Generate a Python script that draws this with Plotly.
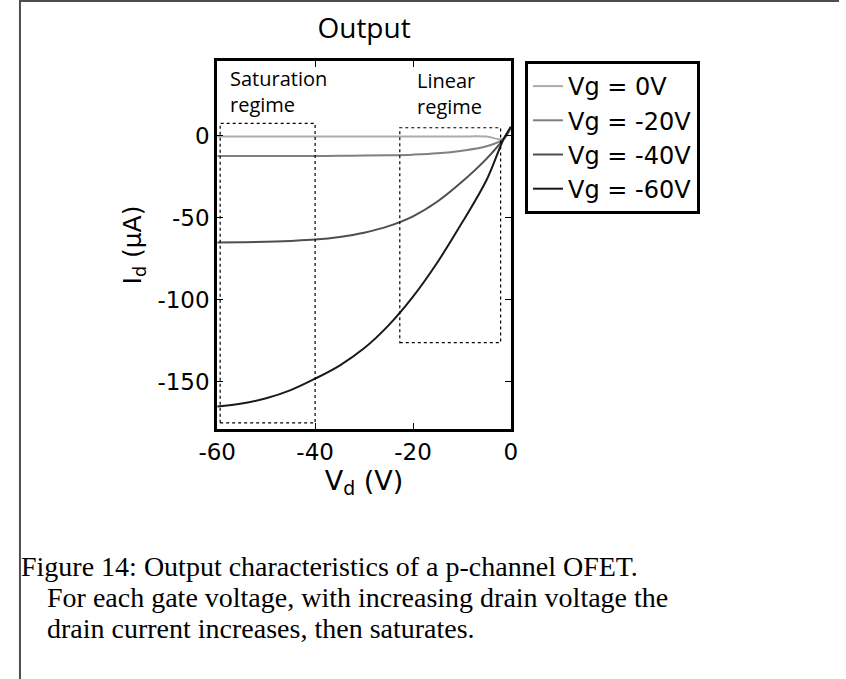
import plotly.graph_objects as go

# Drain voltage sweep (V)
vd = [-60, -55, -50, -45, -40, -35, -30, -25, -20, -15, -10, -5, -1.5, 0]

# Drain current (uA) for each gate voltage
id_vg0 = [-0.3, -0.3, -0.3, -0.3, -0.3, -0.3, -0.3, -0.3, -0.3, -0.3, -0.3, -0.4, -1.8, 5.5]
id_vg20 = [-12.2, -12.2, -12.2, -12.2, -12.2, -12.1, -12.0, -11.8, -11.4, -10.6, -9.0, -6.3, -1.8, 5.5]
id_vg40 = [-65.0, -64.8, -64.5, -64.0, -63.2, -61.6, -59.0, -55.0, -49.0, -40.0, -28.0, -14.0, -1.8, 5.5]
id_vg60 = [-165.0, -163.2, -160.0, -155.0, -148.0, -140.0, -129.5, -115.5, -98.0, -77.0, -53.0, -27.0, -2.0, 5.5]

series_names = ["Vg = 0V", "Vg = -20V", "Vg = -40V", "Vg = -60V"]
series_values = [id_vg0, id_vg20, id_vg40, id_vg60]
series_colors = ["#ababab", "#808080", "#4f4f4f", "#1a1a1a"]

x_ticks = [-60, -40, -20, 0]
y_ticks = [-150, -100, -50, 0]

# Dashed regime boxes: (vd_min, vd_max, id_min, id_max)
saturation_box = (-59.4, -40.0, -175.0, 7.7)
linear_box = (-22.7, -2.1, -126.0, 5.0)

caption_lines = [
    "Figure 14: Output characteristics of a p-channel OFET.",
    "For each gate voltage, with increasing drain voltage the",
    "drain current increases, then saturates.",
]

W, H = 846, 679


def px(x):
    return x / W


def py(y):
    return 1 - y / H


fig = go.Figure()
for i, (name, vals, col) in enumerate(zip(series_names, series_values, series_colors)):
    fig.add_trace(go.Scatter(
        x=vd, y=vals, mode="lines", name=name,
        line=dict(color=col, width=2, shape="spline", smoothing=1.0),
        legendgroup=f"g{i}",
    ))

axis_font = dict(family="DejaVu Sans", size=23, color="black")

fig.update_layout(
    width=W, height=H,
    margin=dict(l=0, r=0, t=0, b=0),
    paper_bgcolor="white", plot_bgcolor="white",
    showlegend=True,
    legend=dict(
        x=px(522), y=py(61), xanchor="left", yanchor="top",
        xref="paper", yref="paper",
        bordercolor="black", borderwidth=3, bgcolor="white",
        font=dict(family="DejaVu Sans", size=24, color="black"),
        itemwidth=30, tracegroupgap=0,
    ),
    title=dict(
        text="Output", x=px(356.0), y=py(28), xanchor="center", yanchor="middle",
        xref="paper", yref="paper",
        font=dict(family="Open Sans", size=28, color="black"),
    ),
    xaxis=dict(
        domain=[px(204.5), px(507.5)], range=[-60, 0],
        tickvals=x_ticks, ticktext=[str(v) for v in x_ticks],
        ticks="inside", ticklen=6, tickwidth=1, tickcolor="black",
        showline=True, linewidth=3, linecolor="black", mirror="ticks",
        showgrid=False, zeroline=False, tickfont=axis_font,
        title=dict(text="V<sub>d</sub> (V)", standoff=0,
                   font=dict(family="DejaVu Sans", size=27, color="black")),
    ),
    yaxis=dict(
        domain=[py(429), py(61)], range=[-178.7, 45.7],
        tickvals=y_ticks, ticktext=[str(v) for v in y_ticks],
        ticks="inside", ticklen=6, tickwidth=1, tickcolor="black",
        showline=True, linewidth=3, linecolor="black", mirror="ticks",
        showgrid=False, zeroline=False, tickfont=axis_font,
        title=dict(text="I<sub>d</sub> (µA)", standoff=9,
                   font=dict(family="DejaVu Sans", size=25, color="black")),
    ),
)

# Regime boxes
for (x0, x1, y0, y1) in (saturation_box, linear_box):
    fig.add_shape(type="rect", xref="x", yref="y", x0=x0, x1=x1, y0=y0, y1=y1,
                  line=dict(color="black", width=1.2, dash="3px,3px"))

# Regime labels
region_font = dict(family="Open Sans", size=20, color="black")
fig.add_annotation(text="Saturation<br>regime", xref="paper", yref="paper",
                   x=px(215.8), y=py(91.5), xanchor="left", yanchor="middle",
                   align="left", showarrow=False, font=region_font)
fig.add_annotation(text="Linear<br>regime", xref="paper", yref="paper",
                   x=px(408.2), y=py(93.5), xanchor="left", yanchor="middle",
                   align="left", showarrow=False, font=region_font)

# Caption with hanging indent
cap_font = dict(family="Liberation Serif", size=28, color="black")
cap_pos = [(0, 566), (26.6, 597), (26.6, 628)]
for line, (cx, cy) in zip(caption_lines, cap_pos):
    fig.add_annotation(text=line, xref="paper", yref="paper",
                       x=px(cx), y=py(cy), xanchor="left", yanchor="middle",
                       align="left", showarrow=False, font=cap_font)

# Page frame: top rule and left rule
fig.add_shape(type="line", xref="paper", yref="paper", x0=0, x1=1, y0=py(1), y1=py(1),
              line=dict(color="#4d4d4d", width=2))
fig.add_shape(type="line", xref="paper", yref="paper", x0=px(1), x1=px(1), y0=0, y1=1,
              line=dict(color="#4d4d4d", width=2))

fig.write_html("out.html")
